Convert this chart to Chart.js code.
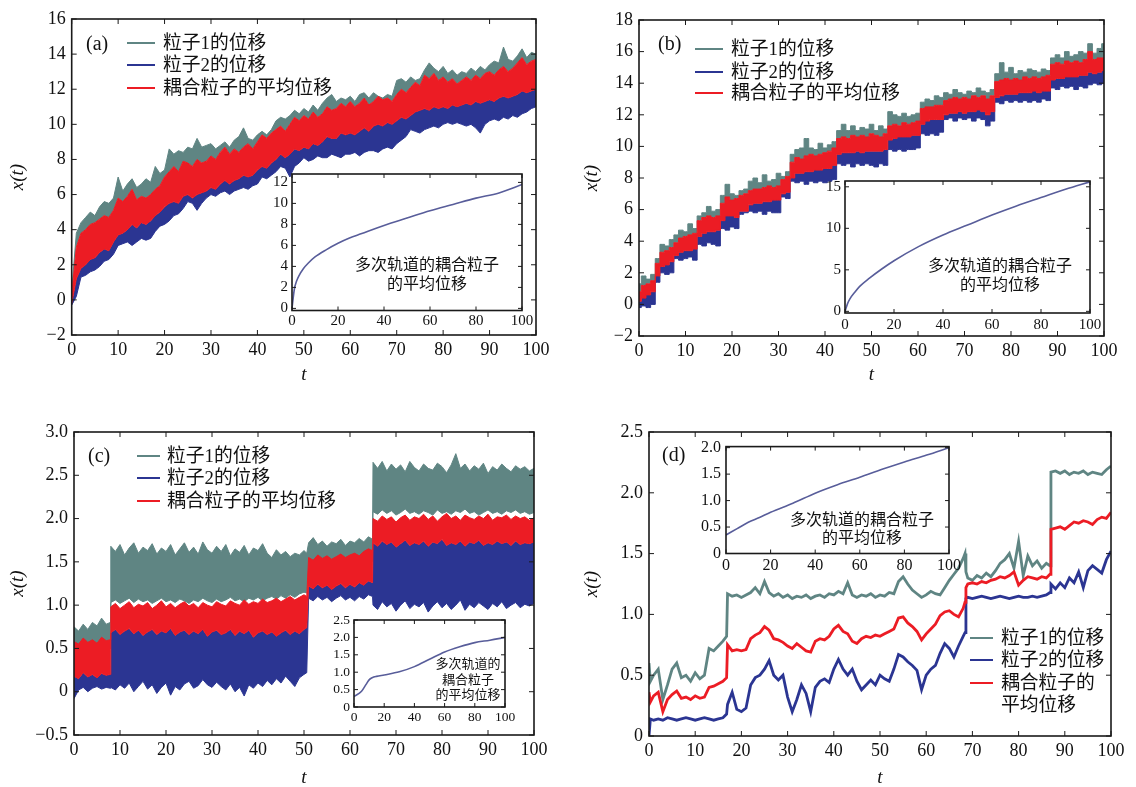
<!DOCTYPE html>
<html>
<head>
<meta charset="utf-8">
<script src="https://cdn.jsdelivr.net/npm/chart.js@4"></script>
<style>
  body { margin: 0; background: #fff; }
  #fig { position: relative; width: 1136px; height: 787px; overflow: hidden; background: #fff; }
  canvas { position: absolute; }
  .t { position: absolute; font-family: "Liberation Serif", "Noto Sans CJK SC", serif; font-size: 18.8px; line-height: 22px; white-space: nowrap; color: #111; }
  .lab { position: absolute; font-family: "Liberation Serif", serif; font-size: 20px; line-height: 24px; color: #111; }
  .ln { position: absolute; height: 0; width: 28px; border-top: 2px solid; }
  .note { position: absolute; width: 200px; text-align: center; font-family: "Noto Sans CJK SC", sans-serif; color: #111; white-space: nowrap; }
</style>
</head>
<body>
<div id="fig">
  <canvas id="ca" width="560" height="395" style="left:0;top:0"></canvas>
  <canvas id="cb" width="566" height="395" style="left:570px;top:0"></canvas>
  <canvas id="cc" width="560" height="387" style="left:0;top:400px"></canvas>
  <canvas id="cd" width="566" height="387" style="left:570px;top:400px"></canvas>
  <canvas id="ia" width="300" height="180" style="left:240px;top:160px"></canvas>
  <canvas id="ib" width="305" height="180" style="left:800px;top:165px"></canvas>
  <canvas id="ic" width="205" height="125" style="left:315px;top:605px"></canvas>
  <canvas id="id" width="290" height="150" style="left:680px;top:432px"></canvas>

  <!-- panel (a) -->
  <div class="lab" style="left:86px;top:31px">(a)</div>
  <div class="ln" style="left:127px;top:42px;border-color:#5f8583"></div>
  <div class="t" style="left:163px;top:32px">粒子1的位移</div>
  <div class="ln" style="left:127px;top:64px;border-color:#2b3592"></div>
  <div class="t" style="left:163px;top:54px">粒子2的位移</div>
  <div class="ln" style="left:127px;top:87px;border-color:#ec1c24"></div>
  <div class="t" style="left:163px;top:77px">耦合粒子的平均位移</div>
  <div class="note" style="left:327px;top:254px;font-size:16px;line-height:19px">多次轨道的耦合粒子<br>的平均位移</div>

  <!-- panel (b) -->
  <div class="lab" style="left:658px;top:31px">(b)</div>
  <div class="ln" style="left:695px;top:48px;border-color:#5f8583"></div>
  <div class="t" style="left:731px;top:38px">粒子1的位移</div>
  <div class="ln" style="left:695px;top:71px;border-color:#2b3592"></div>
  <div class="t" style="left:731px;top:61px">粒子2的位移</div>
  <div class="ln" style="left:695px;top:92px;border-color:#ec1c24"></div>
  <div class="t" style="left:731px;top:82px">耦合粒子的平均位移</div>
  <div class="note" style="left:900px;top:255px;font-size:16px;line-height:19px">多次轨道的耦合粒子<br>的平均位移</div>

  <!-- panel (c) -->
  <div class="lab" style="left:88px;top:443px">(c)</div>
  <div class="ln" style="left:137px;top:455px;border-color:#5f8583;width:23px"></div>
  <div class="t" style="left:167px;top:445px">粒子1的位移</div>
  <div class="ln" style="left:137px;top:477px;border-color:#2b3592;width:23px"></div>
  <div class="t" style="left:167px;top:467px">粒子2的位移</div>
  <div class="ln" style="left:137px;top:500px;border-color:#ec1c24;width:23px"></div>
  <div class="t" style="left:167px;top:490px">耦合粒子的平均位移</div>
  <div class="note" style="left:368px;top:655px;font-size:13px;line-height:15.5px">多次轨道的<br>耦合粒子<br>的平均位移</div>

  <!-- panel (d) -->
  <div class="lab" style="left:662px;top:442px">(d)</div>
  <div class="note" style="left:762px;top:509px;font-size:16px;line-height:18px">多次轨道的耦合粒子<br>的平均位移</div>
  <div class="ln" style="left:970px;top:637px;border-color:#5f8583;width:23px"></div>
  <div class="t" style="left:1001px;top:627px">粒子1的位移</div>
  <div class="ln" style="left:970px;top:659px;border-color:#2b3592;width:23px"></div>
  <div class="t" style="left:1001px;top:649px">粒子2的位移</div>
  <div class="ln" style="left:970px;top:682px;border-color:#ec1c24;width:23px"></div>
  <div class="t" style="left:1001px;top:672px">耦合粒子的</div>
  <div class="t" style="left:1001px;top:694px">平均位移</div>
</div>

<script>
// time grid shared by panels (a) and (b)
const tGrid = [0,1,2,3,4,5,6,7,8,9,10,11,12,13,14,15,16,17,18,19,20,21,22,23,24,25,26,27,28,29,
  30,31,32,33,34,35,36,37,38,39,40,41,42,43,44,45,46,47,48,49,50,51,52,53,54,55,56,57,58,59,
  60,61,62,63,64,65,66,67,68,69,70,71,72,73,74,75,76,77,78,79,80,81,82,83,84,85,86,87,88,89,
  90,91,92,93,94,95,96,97,98,99,100];
// panel (c) grid, with the three jumps kept vertical
const tGridC = [0,1,2,3,4,5,6,7,7.9,8,9,10,11,12,13,14,15,16,17,18,19,20,21,22,23,24,25,26,27,28,29,
  30,31,32,33,34,35,36,37,38,39,40,41,42,43,44,45,46,47,48,49,50,50.6,51,52,53,54,55,56,57,58,59,
  60,61,62,63,64,64.9,65,66,67,68,69,70,71,72,73,74,75,76,77,78,79,80,81,82,83,84,85,86,87,88,89,
  90,91,92,93,94,95,96,97,98,99,100];

// panel (a): envelopes of the noisy bands
const aGrayHi = [0.5,3.8,4.4,4.7,5.0,4.8,5.3,5.6,5.5,5.8,
  7.0,6.2,6.6,6.9,6.4,6.6,6.9,6.7,7.6,7.2,
  7.4,8.6,8.3,8.5,8.4,8.7,8.6,9.2,8.7,8.8,
  8.9,8.6,8.8,9.0,8.7,9.1,9.3,9.8,9.2,9.1,
  9.4,9.6,9.4,9.7,10.2,10.4,10.3,10.5,10.8,10.6,
  10.9,10.7,11.1,10.8,11.2,11.5,11.7,11.3,11.5,11.4,
  11.6,11.3,11.7,11.8,11.5,11.8,11.6,11.5,11.7,11.6,
  12.5,12.6,12.4,12.7,12.5,12.6,13.1,13.5,13.2,13.0,
  13.3,12.9,13.1,12.8,13.0,12.9,13.2,13.0,13.3,13.1,
  13.4,13.6,13.5,14.4,13.7,13.6,13.9,14.3,13.8,14.1,
  14.0];
const aRedHi = [0.3,3.0,3.8,4.0,4.3,4.4,4.6,4.8,4.7,5.1,
  5.8,5.6,5.9,6.3,5.7,5.9,5.8,6.0,6.3,6.5,
  7.0,7.3,7.6,7.3,7.9,7.8,7.6,8.0,7.8,7.9,
  8.2,8.0,8.4,8.7,8.3,8.6,8.4,8.7,8.9,8.6,
  9.0,9.4,9.2,9.5,9.7,9.9,9.6,10.0,10.4,10.2,
  10.5,10.3,10.7,10.4,10.6,11.0,10.8,10.9,11.2,11.0,
  11.3,11.0,11.2,11.5,11.1,11.3,11.6,11.4,11.5,11.3,
  11.7,12.0,11.8,12.1,12.4,12.2,12.8,12.6,12.9,12.5,
  12.7,12.4,12.6,12.3,12.5,12.7,12.5,12.8,12.6,12.9,
  13.0,12.8,13.1,13.3,13.0,13.2,13.5,13.8,13.4,13.6,
  13.7];
const aRedLo = [-0.2,1.2,1.8,2.0,2.3,2.4,2.7,2.9,2.8,3.3,
  3.7,3.8,4.0,4.3,4.1,4.4,4.3,4.5,4.8,5.0,
  5.3,5.5,5.6,5.5,5.9,6.0,5.8,6.0,6.1,6.2,
  6.4,6.3,6.6,6.8,6.6,6.8,6.9,7.1,7.0,7.1,
  7.4,7.6,7.5,7.8,8.0,8.3,8.1,8.3,8.6,8.5,
  8.7,8.6,8.9,8.8,9.0,9.3,9.2,9.2,9.5,9.4,
  9.5,9.4,9.6,9.8,9.6,9.9,10.0,9.9,10.1,10.0,
  10.2,10.4,10.3,10.5,10.7,10.8,10.9,10.8,11.0,10.9,
  11.0,10.9,11.1,11.0,11.1,11.2,11.1,11.3,11.2,11.3,
  11.4,11.3,11.5,11.6,11.5,11.6,11.7,11.9,11.8,11.9,
  12.0];
const aBlueLo = [-0.3,0.2,1.3,1.4,1.6,1.7,1.9,2.2,2.3,2.6,
  3.1,3.2,3.3,3.1,3.3,3.5,3.4,3.5,3.9,4.2,
  4.3,4.5,4.8,4.9,5.2,5.6,5.5,5.1,5.5,5.8,
  6.0,5.9,6.1,6.2,6.0,6.2,6.3,6.4,6.3,6.5,
  6.6,7.0,6.9,7.1,7.3,7.6,7.5,7.0,7.6,7.8,
  8.1,7.9,8.0,8.2,8.1,8.1,8.3,8.2,8.1,8.3,
  8.3,8.4,8.2,8.4,8.5,8.5,8.4,8.6,8.7,8.6,
  8.9,9.1,9.3,9.7,9.6,9.5,9.7,9.8,9.9,9.8,
  10.0,10.1,10.0,10.1,10.0,9.9,10.0,9.8,9.5,10.0,
  10.2,10.3,10.2,10.4,10.3,10.5,10.4,10.6,10.7,10.9,
  11.0];

// panel (b)
const bGrayHi = [1.3,1.8,1.6,1.9,2.9,3.8,3.7,4.1,4.4,4.7,
  4.6,5.1,4.8,5.6,5.8,6.2,5.9,6.0,6.9,7.6,
  7.0,6.9,7.2,7.3,7.8,8.0,7.7,8.2,7.8,7.9,
  8.3,8.1,8.4,9.5,9.8,9.9,10.5,9.9,9.8,10.2,
  9.9,10.1,10.3,11.0,11.4,11.0,11.3,11.0,11.2,11.1,
  11.4,11.0,11.3,11.1,12.2,12.0,11.9,12.1,11.9,12.0,
  12.1,12.8,13.0,12.9,13.2,13.1,13.4,13.3,13.6,13.4,
  13.3,13.5,13.4,13.7,13.5,13.4,13.6,14.6,15.3,14.7,
  15.0,14.6,14.8,14.7,14.9,14.8,14.7,14.9,14.8,15.6,
  15.8,15.6,16.0,15.7,15.8,16.0,15.9,16.5,15.9,16.2,
  16.5];
const bRedHi = [0.8,1.2,1.3,1.5,2.6,3.3,3.4,3.6,3.9,4.2,
  4.3,4.4,4.5,5.3,5.5,5.6,5.5,5.6,6.4,6.8,
  6.6,6.7,6.9,7.0,7.2,7.3,7.3,7.4,7.5,7.4,
  7.5,7.9,8.1,9.0,9.3,9.2,9.4,9.5,9.4,9.5,
  9.6,9.7,9.9,10.5,10.6,10.5,10.7,10.6,10.7,10.6,
  10.8,10.7,10.6,10.8,11.3,11.4,11.3,11.5,11.4,11.5,
  11.6,12.4,12.5,12.5,12.6,12.6,12.9,13.0,13.1,13.0,
  13.1,13.0,13.2,13.1,13.2,13.0,13.2,14.1,14.2,14.3,
  14.2,14.3,14.2,14.4,14.3,14.4,14.3,14.4,14.5,15.2,
  15.3,15.2,15.4,15.3,15.4,15.3,15.5,16.0,15.5,15.6,
  15.6];
const bRedLo = [0.2,0.4,0.6,0.8,1.8,2.4,2.5,2.7,3.1,3.3,
  3.4,3.4,3.5,4.3,4.5,4.6,4.6,4.7,5.3,5.6,
  5.6,5.5,5.9,5.9,6.3,6.4,6.4,6.5,6.5,6.6,
  6.6,7.0,7.1,8.0,8.3,8.3,8.4,8.4,8.5,8.5,
  8.6,8.6,8.8,9.5,9.6,9.6,9.6,9.7,9.6,9.7,
  9.7,9.7,9.7,9.8,10.4,10.5,10.6,10.6,10.6,10.7,
  10.7,11.4,11.6,11.7,11.7,11.7,12.0,12.1,12.1,12.2,
  12.1,12.2,12.2,12.3,12.2,12.0,12.2,13.1,13.2,13.3,
  13.3,13.3,13.4,13.4,13.4,13.5,13.4,13.5,13.5,14.2,
  14.3,14.3,14.4,14.4,14.4,14.5,14.5,14.7,14.6,14.7,
  14.8];
const bBlueLo = [-0.2,-0.1,-0.2,0.0,1.4,2.0,1.9,2.0,2.9,2.8,
  2.9,3.0,2.8,3.8,3.7,3.9,3.8,3.7,4.8,4.7,
  4.9,4.8,5.7,5.8,5.9,5.8,5.9,5.7,5.9,5.8,
  5.8,6.8,6.7,7.8,7.7,7.8,7.6,7.8,7.7,7.8,
  7.7,7.8,7.9,8.9,8.8,8.9,8.7,8.9,8.8,8.9,
  8.8,8.7,8.9,8.8,9.8,9.7,9.8,9.7,9.8,9.8,
  9.9,10.8,10.7,10.8,10.7,10.9,11.7,11.8,11.6,11.8,
  11.7,11.8,11.6,11.8,11.7,11.3,11.6,12.8,12.7,12.9,
  12.8,12.9,12.8,12.9,12.8,12.9,12.8,13.0,12.9,13.7,
  13.6,13.8,13.7,13.8,13.6,13.8,13.7,13.9,14.0,13.9,
  14.0];

// panel (c)
const cGrayHi = [0.75,0.70,0.78,0.72,0.80,0.76,0.85,0.78,0.80,
  1.68,1.62,1.70,1.58,1.66,1.72,1.60,1.67,1.63,1.71,1.59,1.66,1.62,1.70,1.58,1.65,1.72,1.61,1.67,1.59,
  1.73,1.64,1.60,1.68,1.62,1.70,1.57,1.65,1.61,1.69,1.58,1.66,1.63,1.71,1.60,1.55,1.64,1.58,1.62,1.56,
  1.60,1.58,1.63,1.60,
  1.72,1.78,1.70,1.74,1.68,1.73,1.71,1.76,1.69,1.74,1.72,1.77,1.73,1.79,1.76,
  2.65,2.58,2.66,2.55,2.63,2.57,2.62,2.54,2.66,2.59,2.55,2.63,2.58,2.56,2.64,2.60,2.53,2.62,2.75,2.58,
  2.63,2.55,2.61,2.57,2.64,2.52,2.60,2.56,2.63,2.58,2.54,2.61,2.57,2.60,2.55,2.58];
const cGrayLo = [0.45,0.48,0.44,0.47,0.50,0.46,0.49,0.52,0.50,
  1.03,1.06,1.02,1.05,1.08,1.03,1.07,1.04,1.06,1.02,1.05,1.08,1.04,1.06,1.03,1.07,1.05,1.02,1.06,1.04,
  1.08,1.05,1.03,1.07,1.04,1.06,1.09,1.05,1.07,1.04,1.08,1.06,1.09,1.05,1.08,1.10,1.07,1.11,1.08,1.12,
  1.09,1.13,1.15,1.14,
  1.45,1.48,1.44,1.47,1.46,1.49,1.45,1.48,1.47,1.50,1.48,1.51,1.49,1.52,1.50,
  2.08,2.05,2.10,2.06,2.09,2.04,2.07,2.11,2.06,2.08,2.05,2.09,2.07,2.04,2.10,2.06,2.08,2.05,2.09,2.07,
  2.11,2.06,2.08,2.04,2.07,2.10,2.06,2.08,2.05,2.09,2.07,2.10,2.06,2.08,2.05,2.07];
const cRedHi = [0.58,0.55,0.62,0.57,0.60,0.56,0.63,0.59,0.60,
  0.98,1.02,0.96,1.00,1.04,0.97,1.01,0.99,1.03,0.96,1.00,1.05,0.98,1.02,0.97,1.01,1.04,0.99,1.02,0.97,
  1.03,1.00,0.98,1.04,1.01,0.99,1.05,1.02,1.00,1.06,1.01,1.04,1.02,1.07,1.03,1.05,1.08,1.04,1.07,1.10,
  1.06,1.09,1.12,1.10,
  1.55,1.52,1.58,1.54,1.57,1.53,1.56,1.59,1.55,1.58,1.60,1.57,1.62,1.65,1.63,
  2.00,1.97,2.03,1.99,2.02,1.96,2.01,2.04,1.98,2.02,2.00,2.05,1.99,2.03,1.97,2.02,2.06,2.00,2.03,1.98,
  2.04,2.01,1.99,2.03,2.00,2.05,1.98,2.02,2.01,2.04,1.99,2.03,2.00,2.02,1.98,2.01];
const cRedLo = [0.18,0.15,0.22,0.17,0.20,0.16,0.21,0.19,0.20,
  0.68,0.72,0.66,0.70,0.73,0.67,0.71,0.65,0.69,0.72,0.66,0.70,0.68,0.73,0.65,0.69,0.71,0.66,0.70,0.67,
  0.72,0.64,0.69,0.71,0.66,0.68,0.72,0.65,0.70,0.67,0.71,0.63,0.68,0.70,0.66,0.69,0.64,0.68,0.71,0.66,
  0.70,0.67,0.72,0.74,
  1.22,1.19,1.24,1.20,1.23,1.18,1.22,1.25,1.20,1.24,1.21,1.26,1.23,1.28,1.26,
  1.72,1.68,1.74,1.70,1.73,1.67,1.71,1.75,1.69,1.72,1.70,1.74,1.68,1.73,1.71,1.76,1.69,1.72,1.70,1.74,
  1.68,1.73,1.71,1.75,1.69,1.72,1.70,1.74,1.71,1.73,1.69,1.74,1.70,1.72,1.71,1.73];
const cBlueLo = [-0.08,0.02,0.05,0.00,0.04,0.06,0.03,0.05,0.04,
  0.05,0.02,0.08,0.04,0.10,0.00,0.06,0.12,0.03,0.08,-0.02,0.05,0.10,-0.04,0.06,0.02,0.09,0.12,0.04,0.07,
  0.14,0.08,0.05,0.11,0.06,0.02,0.09,0.00,0.05,-0.05,0.08,0.04,0.10,0.06,0.13,0.08,0.15,0.10,0.18,0.12,
  0.06,0.16,0.20,0.22,
  1.08,1.05,1.10,1.06,1.09,1.04,1.08,1.11,1.06,1.09,1.05,1.10,1.07,1.12,1.10,
  1.00,0.95,1.04,0.98,1.02,0.93,1.00,1.05,0.96,1.01,0.98,1.03,0.92,0.99,1.04,0.97,1.02,0.95,1.00,1.06,
  0.94,1.01,0.97,1.03,0.99,0.95,1.02,0.98,1.04,0.96,1.00,1.03,0.97,1.01,0.99,1.02];

// panel (d): single trajectories
const tD = [0,0.3,1,2,3,4,5,6,7,8,9,10,11,12,13,14,15,16,16.8,
  17,18,19,20,21,22,23,24,25,26,27,28,29,30,31,32,33,34,35,36,37,38,39,40,41,42,
  43,44,45,46,47,48,49,50,51,52,53,54,55,56,57,58,59,60,61,62,63,64,65,66,67,68,68.4,68.6,
  69,70,71,72,73,74,75,76,77,78,79,80,81,82,83,84,85,86,86.8,
  87,88,89,90,91,92,93,94,95,96,97,98,99,100];
const dGray = [0.60,0.45,0.50,0.55,0.30,0.42,0.55,0.60,0.48,0.50,0.45,0.52,0.47,0.50,0.72,0.70,0.74,0.78,0.82,
  1.17,1.15,1.16,1.14,1.16,1.18,1.22,1.17,1.27,1.18,1.15,1.17,1.14,1.16,1.13,1.15,1.14,1.16,1.13,1.15,1.16,1.14,1.17,1.16,1.19,1.17,
  1.26,1.16,1.14,1.16,1.15,1.17,1.14,1.16,1.15,1.18,1.17,1.27,1.31,1.25,1.20,1.17,1.14,1.16,1.19,1.17,1.16,1.22,1.28,1.33,1.38,1.46,1.50,1.35,
  1.30,1.28,1.32,1.30,1.34,1.31,1.36,1.42,1.45,1.50,1.38,1.60,1.32,1.48,1.40,1.44,1.38,1.42,1.40,
  2.17,2.18,2.16,2.18,2.15,2.17,2.16,2.18,2.15,2.17,2.16,2.15,2.19,2.22];
const dRed = [0.36,0.28,0.33,0.36,0.20,0.30,0.34,0.37,0.31,0.32,0.30,0.33,0.31,0.32,0.40,0.41,0.43,0.45,0.48,
  0.75,0.70,0.71,0.70,0.71,0.80,0.83,0.85,0.90,0.87,0.80,0.79,0.77,0.74,0.72,0.76,0.73,0.70,0.69,0.78,0.80,0.79,0.82,0.88,0.91,0.86,
  0.84,0.78,0.76,0.80,0.82,0.81,0.83,0.82,0.84,0.86,0.88,0.97,0.98,0.93,0.90,0.86,0.79,0.84,0.88,0.92,0.99,1.02,1.03,1.00,0.98,1.05,1.10,1.22,
  1.25,1.26,1.25,1.27,1.26,1.28,1.29,1.31,1.30,1.32,1.35,1.24,1.28,1.31,1.30,1.29,1.31,1.30,1.33,
  1.70,1.71,1.72,1.70,1.73,1.76,1.75,1.77,1.76,1.74,1.78,1.80,1.79,1.84];
const dBlue = [0.00,0.14,0.13,0.14,0.13,0.15,0.14,0.13,0.14,0.15,0.14,0.13,0.14,0.15,0.14,0.13,0.14,0.15,0.18,
  0.26,0.36,0.22,0.20,0.23,0.42,0.48,0.50,0.55,0.62,0.50,0.46,0.50,0.32,0.20,0.30,0.42,0.35,0.20,0.40,0.45,0.47,0.44,0.55,0.63,0.55,
  0.50,0.55,0.45,0.38,0.42,0.46,0.42,0.50,0.47,0.45,0.55,0.67,0.65,0.61,0.58,0.54,0.38,0.50,0.55,0.58,0.68,0.76,0.72,0.65,0.74,0.82,0.85,1.13,
  1.14,1.13,1.14,1.15,1.14,1.13,1.14,1.15,1.14,1.13,1.14,1.15,1.14,1.14,1.15,1.14,1.15,1.16,1.18,
  1.25,1.21,1.26,1.22,1.30,1.26,1.35,1.22,1.36,1.40,1.37,1.34,1.45,1.52];

// insets: mean displacement over many trajectories
const insATime = [0,1,2,3,5,7,10,15,20,25,30,40,50,60,70,80,90,100];
const insAMean = [0,1.8,2.6,3.1,3.8,4.3,4.9,5.6,6.2,6.7,7.1,7.9,8.6,9.3,9.9,10.5,11.0,11.8];
const insBTime = [0,1,2,4,6,10,15,20,30,40,50,60,70,80,90,100];
const insBMean = [0,0.9,1.5,2.3,3.0,4.0,5.1,6.1,7.8,9.2,10.4,11.6,12.7,13.7,14.7,15.6];
const insCTime = [0,5,8,10,12,15,20,30,40,50,60,70,80,90,100];
const insCMean = [0.30,0.45,0.65,0.78,0.84,0.88,0.92,1.01,1.16,1.37,1.58,1.73,1.85,1.92,2.00];
const insDTime = [0,5,10,15,20,30,40,50,60,70,80,90,100];
const insDMean = [0.35,0.47,0.59,0.68,0.78,0.95,1.14,1.30,1.44,1.59,1.73,1.86,2.00];

const GRAY = '#5f8583', BLUE = '#2b3592', RED = '#ec1c24', MEAN = '#585d9a';
const SERIF = '"Liberation Serif", "Noto Sans CJK SC", serif';

function pts(ts, vs) {
  return ts.map((t, i) => ({x: t, y: vs[i]}));
}
const minus = s => String(s).replace('-', '\u2212');
const intFmt = v => minus(v);
const decFmt = v => Math.abs(v) < 1e-9 ? '0' : minus(v.toFixed(1));

// box round the plot area with inward ticks on all four sides
const frame = {
  id: 'frame',
  beforeDraw(chart, args, opts) {
    if (!opts.white) return;
    const {ctx, chartArea: a} = chart;
    ctx.save();
    ctx.fillStyle = '#fff';
    ctx.fillRect(a.left, a.top, a.right - a.left, a.bottom - a.top);
    ctx.restore();
  },
  afterDatasetsDraw(chart, args, opts) {
    const {ctx, chartArea: a, scales: {x, y}} = chart;
    const len = opts.len || 5;
    ctx.save();
    ctx.strokeStyle = '#1a1a1a';
    ctx.lineWidth = 1;
    ctx.beginPath();
    x.ticks.forEach(t => {
      const px = x.getPixelForValue(t.value);
      ctx.moveTo(px, a.bottom); ctx.lineTo(px, a.bottom - len);
      ctx.moveTo(px, a.top); ctx.lineTo(px, a.top + len);
    });
    y.ticks.forEach(t => {
      const py = y.getPixelForValue(t.value);
      ctx.moveTo(a.left, py); ctx.lineTo(a.left + len, py);
      ctx.moveTo(a.right, py); ctx.lineTo(a.right - len, py);
    });
    ctx.stroke();
    ctx.lineWidth = opts.width || 1.6;
    ctx.strokeRect(a.left, a.top, a.right - a.left, a.bottom - a.top);
    ctx.restore();
  }
};

function axes(o) {
  const tickFont = {family: SERIF, size: o.font};
  const sc = {
    x: {
      type: 'linear', min: 0, max: 100,
      grid: {display: false, drawTicks: false}, border: {display: false},
      ticks: {stepSize: o.xstep, padding: o.xpad, color: '#111', font: tickFont,
              maxRotation: 0, minRotation: 0, autoSkip: false, callback: v => String(v)},
      afterFit: s => { s.height = o.xH; }
    },
    y: {
      type: 'linear', min: o.ymin, max: o.ymax,
      grid: {display: false, drawTicks: false}, border: {display: false},
      ticks: {stepSize: o.ystep, padding: o.ypad, color: '#111', font: tickFont,
              includeBounds: false, autoSkip: false, callback: o.fmt},
      afterFit: s => { s.width = o.yW; }
    }
  };
  if (o.titles) {
    sc.x.title = {display: true, text: 't', color: '#111',
      font: {family: SERIF, size: 19, style: 'italic', lineHeight: 1},
      padding: {top: 0, bottom: o.tPad}};
    sc.y.title = {display: true, text: 'x(t)', color: '#111',
      font: {family: SERIF, size: 19, style: 'italic', lineHeight: 1},
      padding: {top: o.yPadT, bottom: 0}};
  }
  return sc;
}

function options(o) {
  return {
    responsive: false, animation: false, devicePixelRatio: 1,
    layout: {padding: {left: 0, right: o.padR, top: o.padT, bottom: 0}},
    plugins: {legend: {display: false}, tooltip: {enabled: false},
              frame: {white: !!o.white, len: o.len || 5}},
    elements: {point: {radius: 0}},
    scales: axes(o)
  };
}

function band(data, color, fill, order, stepped) {
  return {data, borderColor: color, backgroundColor: color, borderWidth: 1,
          fill, order, stepped, tension: 0, pointRadius: 0};
}

// (a)
new Chart(document.getElementById('ca'), {
  type: 'line',
  data: {datasets: [
    band(pts(tGrid, aRedLo), RED, false, 0, false),
    band(pts(tGrid, aRedHi), RED, 0, 0, false),
    band(pts(tGrid, aBlueLo), BLUE, 0, 1, false),
    band(pts(tGrid, aGrayHi), GRAY, 1, 2, false)
  ]},
  options: options({padR: 24, padT: 19, xH: 60, yW: 71.7, font: 18, xstep: 10, xpad: 4,
    ymin: -2, ymax: 16, ystep: 2, ypad: 6, fmt: intFmt, titles: true, tPad: 10.5, yPadT: 8.5}),
  plugins: [frame]
});

// (b)
new Chart(document.getElementById('cb'), {
  type: 'line',
  data: {datasets: [
    band(pts(tGrid, bRedLo), RED, false, 0, 'middle'),
    band(pts(tGrid, bRedHi), RED, 0, 0, 'middle'),
    band(pts(tGrid, bBlueLo), BLUE, 0, 1, 'middle'),
    band(pts(tGrid, bGrayHi), GRAY, 1, 2, 'middle')
  ]},
  options: options({padR: 32, padT: 20, xH: 59, yW: 69, font: 18, xstep: 10, xpad: 4,
    ymin: -2, ymax: 18, ystep: 2, ypad: 6, fmt: intFmt, titles: true, tPad: 10.5, yPadT: 12.5}),
  plugins: [frame]
});

// (c)
new Chart(document.getElementById('cc'), {
  type: 'line',
  data: {datasets: [
    band(pts(tGridC, cRedLo), RED, false, 0, false),
    band(pts(tGridC, cRedHi), RED, 0, 0, false),
    band(pts(tGridC, cBlueLo), BLUE, 0, 1, false),
    band(pts(tGridC, cGrayLo), GRAY, false, 2, false),
    band(pts(tGridC, cGrayHi), GRAY, 3, 2, false)
  ]},
  options: options({padR: 26, padT: 32, xH: 52, yW: 74, font: 18, xstep: 10, xpad: 4,
    ymin: -0.5, ymax: 3.0, ystep: 0.5, ypad: 6, fmt: decFmt, titles: true, tPad: 0, yPadT: 8.5}),
  plugins: [frame]
});

// (d)
function walk(data, color, order) {
  return {data, borderColor: color, backgroundColor: color, borderWidth: 2.8,
          fill: false, order, pointRadius: 0, tension: 0};
}
new Chart(document.getElementById('cd'), {
  type: 'line',
  data: {datasets: [
    walk(pts(tD, dRed), RED, 0),
    walk(pts(tD, dBlue), BLUE, 1),
    walk(pts(tD, dGray), GRAY, 2)
  ]},
  options: options({padR: 25, padT: 32, xH: 51, yW: 79, font: 18, xstep: 10, xpad: 4,
    ymin: 0, ymax: 2.5, ystep: 0.5, ypad: 6, fmt: decFmt, titles: true, tPad: 0, yPadT: 12.2}),
  plugins: [frame]
});

// insets
function inset(id, ts, vs, o) {
  new Chart(document.getElementById(id), {
    type: 'line',
    data: {datasets: [{data: pts(ts, vs), borderColor: MEAN, borderWidth: 1.6, fill: false,
                       pointRadius: 0, cubicInterpolationMode: 'monotone'}]},
    options: options(Object.assign({white: true, len: 4, xstep: 20}, o)),
    plugins: [frame]
  });
}
inset('ia', insATime, insAMean, {padR: 18, padT: 14, xH: 29.5, yW: 52, font: 15, xpad: 2,
  ymin: -0.2, ymax: 12.8, ystep: 2, ypad: 4, fmt: intFmt});
inset('ib', insBTime, insBMean, {padR: 15, padT: 16, xH: 32, yW: 45, font: 15, xpad: 3,
  ymin: -0.2, ymax: 15.7, ystep: 5, ypad: 4, fmt: intFmt});
inset('ic', insCTime, insCMean, {padR: 15, padT: 15, xH: 23, yW: 39, font: 13.5, xpad: 2,
  ymin: 0, ymax: 2.5, ystep: 0.5, ypad: 4, fmt: decFmt});
inset('id', insDTime, insDMean, {padR: 21, padT: 13, xH: 28.5, yW: 46, font: 16, xpad: 3,
  ymin: 0, ymax: 2.02, ystep: 0.5, ypad: 5, fmt: decFmt});
</script>
</body>
</html>
